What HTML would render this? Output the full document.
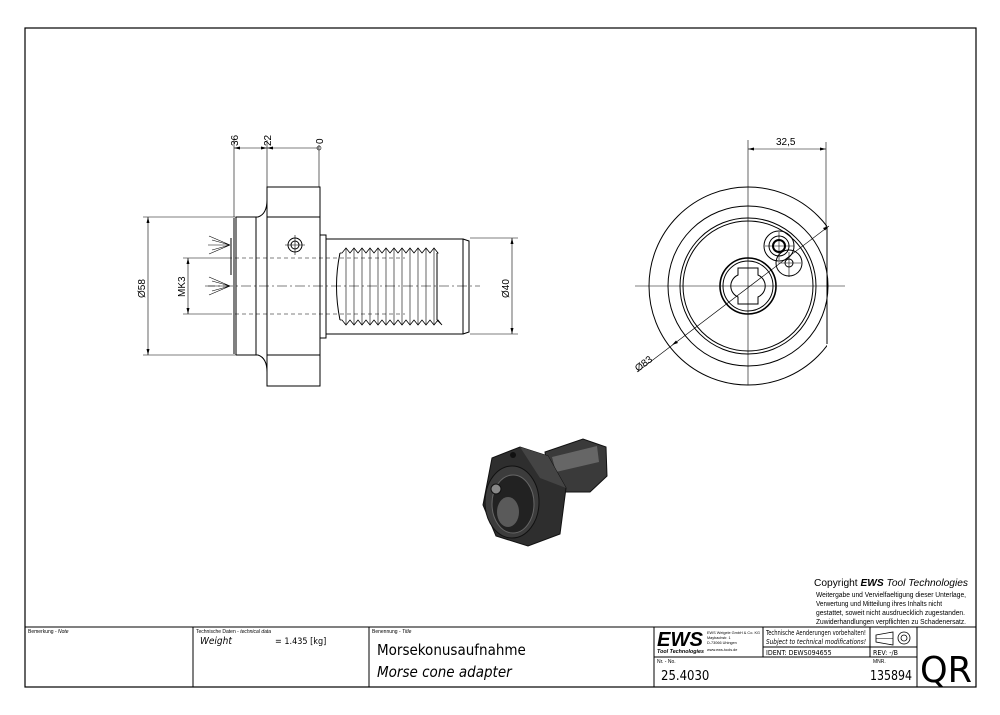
<!DOCTYPE html>
<html><head><meta charset="utf-8"><style>
html,body{margin:0;padding:0;background:#fff;}
svg{display:block;font-family:"Liberation Sans",sans-serif;}
</style></head><body>
<svg width="1000" height="715" viewBox="0 0 1000 715" xmlns="http://www.w3.org/2000/svg">
<rect x="0" y="0" width="1000" height="715" fill="#fff"/>
<rect x="25" y="28" width="951" height="659" fill="none" stroke="#000" stroke-width="1.2"/>

<!-- SIDE VIEW -->
<g stroke="#000" stroke-width="1" fill="none">
  <rect x="267" y="187" width="53" height="199"/>
  <line x1="267" y1="217" x2="320" y2="217"/>
  <line x1="267" y1="355" x2="320" y2="355"/>
  <path d="M236 217 L258 217 Q267 214 267 200"/>
  <path d="M236 355 L258 355 Q267 358 267 372"/>
  <line x1="236" y1="217" x2="236" y2="355"/>
  <line x1="234" y1="218" x2="234" y2="354"/>
  <line x1="256" y1="217" x2="256" y2="355"/>
  <line x1="231" y1="238" x2="231" y2="275"/>
  <rect x="320" y="235" width="6" height="103"/>
  <rect x="326" y="239" width="137" height="95"/>
  <path d="M463 239 L469 241 L469 332 L463 334"/>
  <path d="M340 253 Q333 286 340 320"/>
  <line x1="437" y1="253" x2="437" y2="320"/>
  <circle cx="295" cy="245" r="7"/>
  <circle cx="295" cy="245" r="4"/>
</g>
<g stroke="#000" stroke-width="0.8" fill="none">
  <path d="M340 253 L342 253 l4 -5 l4 5 l4 -5 l4 5 l4 -5 l4 5 l4 -5 l4 5 l4 -5 l4 5 l4 -5 l4 5 l4 -5 l4 5 l4 -5 l4 5 l4 -5 l4 5 l4 -5 l4 5 l4 -5 l4 5 l4 -5 l4 5 L437 253"/>
  <path d="M340 320 L342 320 l4 5 l4 -5 l4 5 l4 -5 l4 5 l4 -5 l4 5 l4 -5 l4 5 l4 -5 l4 5 l4 -5 l4 5 l4 -5 l4 5 l4 -5 l4 5 l4 -5 l4 5 l4 -5 l4 5 l4 -5 l4 5 l4 -5 l4 5 L437 320"/>
  <g stroke-width="0.6">
    <line x1="346" y1="248" x2="346" y2="325"/><line x1="354" y1="248" x2="354" y2="325"/><line x1="362" y1="248" x2="362" y2="325"/><line x1="370" y1="248" x2="370" y2="325"/><line x1="378" y1="248" x2="378" y2="325"/><line x1="386" y1="248" x2="386" y2="325"/><line x1="394" y1="248" x2="394" y2="325"/><line x1="402" y1="248" x2="402" y2="325"/><line x1="410" y1="248" x2="410" y2="325"/><line x1="418" y1="248" x2="418" y2="325"/><line x1="426" y1="248" x2="426" y2="325"/><line x1="434" y1="248" x2="434" y2="325"/>
  </g>
</g>
<g stroke="#000" stroke-width="0.6" fill="none" stroke-dasharray="10 3 2 3">
  <line x1="205" y1="286" x2="480" y2="286"/>
  <line x1="228" y1="258" x2="405" y2="258" stroke-dasharray="4 3"/>
  <line x1="228" y1="314" x2="405" y2="314" stroke-dasharray="4 3"/>
  <line x1="285" y1="245" x2="305" y2="245" stroke-dasharray="none"/>
  <line x1="295" y1="235" x2="295" y2="255" stroke-dasharray="none"/>
</g>
<g stroke="#000" stroke-width="0.6">
  <path d="M230 245 L209 236 M230 245 L212 240 M230 245 L208 245 M230 245 L212 250 M230 245 L209 254"/>
  <path d="M230 286 L209 277 M230 286 L212 281 M230 286 L208 286 M230 286 L212 291 M230 286 L209 295"/>
</g>
<g stroke="#000" stroke-width="0.6" fill="none">
  <line x1="234" y1="140" x2="234" y2="217"/>
  <line x1="267" y1="140" x2="267" y2="187"/>
  <line x1="319" y1="145" x2="319" y2="187"/>
  <line x1="234" y1="148" x2="319" y2="148"/>
  <circle cx="319" cy="148" r="2"/>
  <line x1="143" y1="217" x2="236" y2="217"/>
  <line x1="143" y1="355" x2="236" y2="355"/>
  <line x1="148" y1="217" x2="148" y2="355"/>
  <line x1="183" y1="258" x2="228" y2="258"/>
  <line x1="183" y1="314" x2="228" y2="314"/>
  <line x1="188" y1="258" x2="188" y2="314"/>
  <line x1="470" y1="238" x2="518" y2="238"/>
  <line x1="470" y1="334" x2="518" y2="334"/>
  <line x1="512" y1="238" x2="512" y2="334"/>
</g>
<g fill="#000">
  <path d="M234 148 l6 -1.5 v3z M267 148 l-6 -1.5 v3z M267 148 l6 -1.5 v3z"/>
  <path d="M148 217 l-1.5 6 h3z M148 355 l-1.5 -6 h3z"/>
  <path d="M188 258 l-1.5 6 h3z M188 314 l-1.5 -6 h3z"/>
  <path d="M512 238 l-1.5 6 h3z M512 334 l-1.5 -6 h3z"/>
</g>
<g font-size="10" fill="#000">
  <text transform="translate(238,146) rotate(-90)">36</text>
  <text transform="translate(271,146) rotate(-90)">22</text>
  <text transform="translate(323,144) rotate(-90)">0</text>
  <text transform="translate(145,298) rotate(-90)">Ø58</text>
  <text transform="translate(185,297) rotate(-90)">MK3</text>
  <text transform="translate(509,298) rotate(-90)">Ø40</text>
</g>

<!-- FRONT VIEW -->
<defs><clipPath id="cf"><rect x="600" y="150" width="227" height="300"/></clipPath></defs>
<g stroke="#000" stroke-width="1" fill="none">
  <circle cx="748" cy="286" r="99" clip-path="url(#cf)"/>
  <line x1="827" y1="228" x2="827" y2="344"/>
  <circle cx="748" cy="286" r="80"/>
  <circle cx="748" cy="286" r="68"/>
  <circle cx="748" cy="286" r="65"/>
  <circle cx="748" cy="286" r="28" stroke-width="1.6"/>
  <circle cx="748" cy="286" r="25"/>
  <path d="M738 268 h20 v7 a12 12 0 0 1 0 22 v7 h-20 v-7 a12 12 0 0 1 0 -22 z"/>
  <circle cx="779" cy="246" r="15"/>
  <circle cx="779" cy="246" r="10"/>
  <circle cx="779" cy="246" r="6" stroke-width="2"/>
  <circle cx="789" cy="263" r="13"/>
  <circle cx="789" cy="263" r="4"/>
</g>
<g stroke="#000" stroke-width="0.6" fill="none">
  <line x1="635" y1="286" x2="845" y2="286"/>
  <line x1="748" y1="140" x2="748" y2="385"/>
  <line x1="826" y1="142" x2="826" y2="228"/>
  <line x1="748" y1="149" x2="826" y2="149"/>
  <line x1="637" y1="372" x2="829" y2="226"/>
  <line x1="765" y1="246" x2="794" y2="246"/><line x1="779" y1="232" x2="779" y2="260"/>
  <line x1="778" y1="263" x2="801" y2="263"/><line x1="789" y1="252" x2="789" y2="277"/>
</g>
<g fill="#000">
  <path d="M748 149 l6 -1.5 v3z M826 149 l-6 -1.5 v3z"/>
  <path d="M829 226 l-6 2 l2 2.5z M672 345 l6 -2 l-2 -2.5z"/>
</g>
<g font-size="10" fill="#000">
  <text x="776" y="145">32,5</text>
  <text transform="translate(638,372) rotate(-37)">Ø83</text>
</g>

<!-- 3D render -->
<g>
  <path d="M545 452 L583 439 L606 447 L607 476 L590 492 L550 492 Z" fill="#3a3a3a" stroke="#111"/>
  <path d="M552 457 L597 446 L599 462 L556 472 Z" fill="#666"/>
  <path d="M492 458 L520 447 L548 456 L566 488 L560 534 L528 546 L496 536 L483 505 Z" fill="#2e2e2e" stroke="#111"/>
  <path d="M520 447 L548 456 L566 488 L540 478 Z" fill="#444"/>
  <ellipse cx="512" cy="502" rx="27" ry="36" fill="#3c3c3c" stroke="#111"/>
  <ellipse cx="513" cy="504" rx="21" ry="29" fill="#222" stroke="#666"/>
  <ellipse cx="508" cy="512" rx="11" ry="15" fill="#5a5a5a"/>
  <circle cx="496" cy="489" r="5" fill="#888" stroke="#111"/>
  <circle cx="513" cy="455" r="3" fill="#111"/>
</g>

<!-- Copyright -->
<g fill="#000">
  <text x="814" y="586" font-size="10.5" textLength="154" lengthAdjust="spacingAndGlyphs">Copyright <tspan font-weight="bold" font-style="italic">EWS</tspan> <tspan font-style="italic">Tool Technologies</tspan></text>
  <g font-size="7">
    <text x="816" y="597" textLength="150" lengthAdjust="spacingAndGlyphs">Weitergabe und Vervielfaeltigung dieser Unterlage,</text>
    <text x="816" y="606" textLength="126" lengthAdjust="spacingAndGlyphs">Verwertung und Mitteilung ihres Inhalts nicht</text>
    <text x="816" y="615" textLength="149" lengthAdjust="spacingAndGlyphs">gestattet, soweit nicht ausdruecklich zugestanden.</text>
    <text x="816" y="624" textLength="150" lengthAdjust="spacingAndGlyphs">Zuwiderhandlungen verpflichten zu Schadenersatz.</text>
  </g>
</g>

<!-- Title block -->
<g stroke="#000" stroke-width="1" fill="none">
  <line x1="25" y1="627" x2="976" y2="627"/>
  <line x1="193" y1="627" x2="193" y2="687"/>
  <line x1="369" y1="627" x2="369" y2="687"/>
  <line x1="654" y1="627" x2="654" y2="687"/>
  <line x1="763" y1="627" x2="763" y2="657"/>
  <line x1="870" y1="627" x2="870" y2="657"/>
  <line x1="917" y1="627" x2="917" y2="687"/>
  <line x1="763" y1="647" x2="917" y2="647"/>
  <line x1="654" y1="657" x2="917" y2="657"/>
  <path d="M876 635 L893 632 L893 645 L876 642 Z" stroke-width="0.8"/>
  <line x1="876" y1="638.5" x2="893" y2="638.5" stroke-width="0.6"/>
  <circle cx="904" cy="638" r="6" stroke-width="0.8"/>
  <circle cx="904" cy="638" r="3" stroke-width="0.8"/>
</g>
<g fill="#000" font-size="5">
  <text x="28" y="633">Bemerkung - <tspan font-style="italic">Note</tspan></text>
  <text x="196" y="633">Technische Daten - <tspan font-style="italic">technical data</tspan></text>
  <text x="372" y="633">Benennung - <tspan font-style="italic">Title</tspan></text>
  <text x="657" y="663">Nr. - No.</text>
  <text x="873" y="663">MNR.</text>
</g>
<g fill="#000" font-size="3.8">
  <text x="707" y="634" textLength="53" lengthAdjust="spacingAndGlyphs">EWS Weigele GmbH &amp; Co. KG</text>
  <text x="707" y="639">Maybachstr. 1</text>
  <text x="707" y="644">D-73066 Uhingen</text>
  <text x="707" y="651">www.ews-tools.de</text>
</g>
<g fill="#000" font-family="'DejaVu Sans Condensed','Liberation Sans',sans-serif">
  <text x="200" y="644" font-size="10" font-style="italic">Weight</text>
  <text x="275" y="644" font-size="9">=  1.435 [kg]</text>
  <text x="377" y="655" font-size="15">Morsekonusaufnahme</text>
  <text x="377" y="677" font-size="15" font-style="italic">Morse cone adapter</text>
  <text x="766" y="635" font-size="7" textLength="100" lengthAdjust="spacingAndGlyphs">Technische Aenderungen vorbehalten!</text>
  <text x="766" y="644" font-size="7" font-style="italic" textLength="100" lengthAdjust="spacingAndGlyphs">Subject to technical modifications!</text>
  <text x="766" y="655" font-size="7">IDENT:  DEWS094655</text>
  <text x="873" y="655" font-size="7">REV:  -/B</text>
  <text x="661" y="680" font-size="13">25.4030</text>
  <text x="870" y="680" font-size="13" textLength="42" lengthAdjust="spacingAndGlyphs">135894</text>
  <text x="920" y="682" font-size="36" textLength="52" lengthAdjust="spacingAndGlyphs">QR</text>
</g>
<g>
  <text x="657" y="646" font-size="20" font-weight="bold" font-style="italic" fill="#000" textLength="46" lengthAdjust="spacingAndGlyphs">EWS</text>
  <text x="657" y="653" font-size="5.5" font-weight="bold" font-style="italic" fill="#000" textLength="47" lengthAdjust="spacingAndGlyphs">Tool Technologies</text>
</g>
</svg>
</body></html>
